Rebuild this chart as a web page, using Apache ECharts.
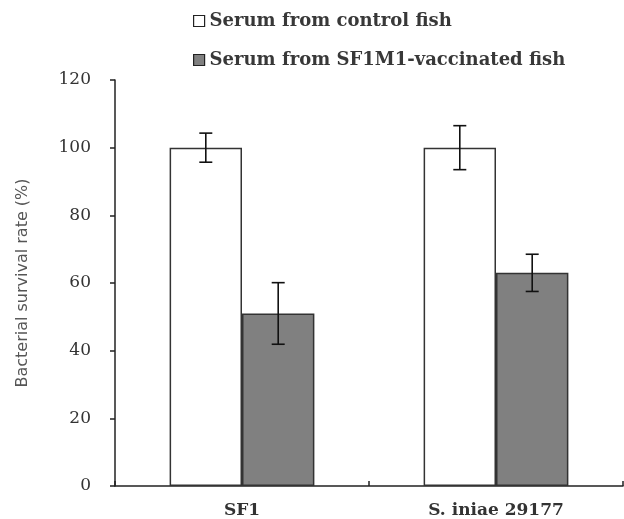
<!DOCTYPE html>
<html>
<head>
<meta charset="utf-8">
<script src="https://cdn.jsdelivr.net/npm/echarts@6/dist/echarts.min.js"></script>
<style>
  html, body { margin: 0; padding: 0; background: #fff; }
  #chart { width: 624px; height: 519px; }
</style>
</head>
<body>
<div id="chart"></div>
<script>
// Bacterial survival after serum treatment, mean ± SD
const categories = ['SF1', 'S. iniae 29177'];
const seriesNames = ['Serum from control fish', 'Serum from SF1M1-vaccinated fish'];
const controlValues = [100, 100];
const controlErrors = [4.3, 6.5];
const vaccinatedValues = [51, 63];
const vaccinatedErrors = [9.1, 5.5];
const yTicks = [0, 20, 40, 60, 80, 100, 120];

const serif = '"DejaVu Serif", serif';
const barWidthFrac = 0.285;

function errorSeries(values, errors, side) {
  return {
    type: 'custom',
    z: 5,
    silent: true,
    data: values.map((v, i) => [i, v - errors[i], v + errors[i]]),
    renderItem: function (params, api) {
      const idx = api.value(0);
      const band = api.size([1, 0])[0];
      const dx = side * band * barWidthFrac / 2;
      const lo = api.coord([idx, api.value(1)]);
      const hi = api.coord([idx, api.value(2)]);
      const x = lo[0] + dx;
      const cap = 6.5;
      const style = { stroke: '#111', lineWidth: 1.6 };
      return {
        type: 'group',
        children: [
          { type: 'line', shape: { x1: x, y1: lo[1], x2: x, y2: hi[1] }, style },
          { type: 'line', shape: { x1: x - cap, y1: lo[1], x2: x + cap, y2: lo[1] }, style },
          { type: 'line', shape: { x1: x - cap, y1: hi[1], x2: x + cap, y2: hi[1] }, style }
        ]
      };
    }
  };
}

const chart = echarts.init(document.getElementById('chart'), null, { renderer: 'canvas' });
chart.setOption({
  backgroundColor: '#fff',
  animation: false,
  legend: {
    orient: 'vertical',
    left: 188,
    top: 7,
    itemGap: 21,
    itemWidth: 11,
    itemHeight: 11,
    icon: 'rect',
    textStyle: { fontFamily: serif, fontSize: 18, fontWeight: 'bold', color: '#383838', padding: [0, 0, 0, 0] },
    data: [
      { name: seriesNames[0], itemStyle: { color: '#fff', borderColor: '#222', borderWidth: 1.2 } },
      { name: seriesNames[1], itemStyle: { color: '#808080', borderColor: '#222', borderWidth: 1.2 } }
    ]
  },
  grid: { left: 115, right: 1, top: 80, bottom: 33 },
  xAxis: {
    type: 'category',
    data: categories,
    axisLine: { lineStyle: { color: '#222', width: 1.5 } },
    axisTick: { show: true, inside: true, length: 5, lineStyle: { color: '#222', width: 1.5 } },
    axisLabel: { fontFamily: serif, fontSize: 17, fontWeight: 'bold', color: '#333', margin: 16 }
  },
  yAxis: {
    type: 'value',
    min: yTicks[0],
    max: yTicks[yTicks.length - 1],
    interval: 20,
    name: 'Bacterial survival rate (%)',
    nameLocation: 'middle',
    nameGap: 84,
    nameTextStyle: { fontFamily: '"DejaVu Sans", sans-serif', fontSize: 16, color: '#555' },
    splitLine: { show: false },
    axisLine: { show: true, lineStyle: { color: '#222', width: 1.5 } },
    axisTick: { show: true, length: 5, lineStyle: { color: '#222', width: 1.5 } },
    axisLabel: { fontFamily: serif, fontSize: 17, color: '#333', margin: 24 }
  },
  series: [
    {
      name: seriesNames[0],
      type: 'bar',
      data: controlValues,
      barWidth: (barWidthFrac * 100) + '%',
      barGap: '0%',
      itemStyle: { color: '#fff', borderColor: '#333', borderWidth: 1.5 }
    },
    {
      name: seriesNames[1],
      type: 'bar',
      data: vaccinatedValues,
      barWidth: (barWidthFrac * 100) + '%',
      barGap: '0%',
      itemStyle: { color: '#808080', borderColor: '#333', borderWidth: 1.5 }
    },
    errorSeries(controlValues, controlErrors, -1),
    errorSeries(vaccinatedValues, vaccinatedErrors, 1)
  ]
});
</script>
</body>
</html>
